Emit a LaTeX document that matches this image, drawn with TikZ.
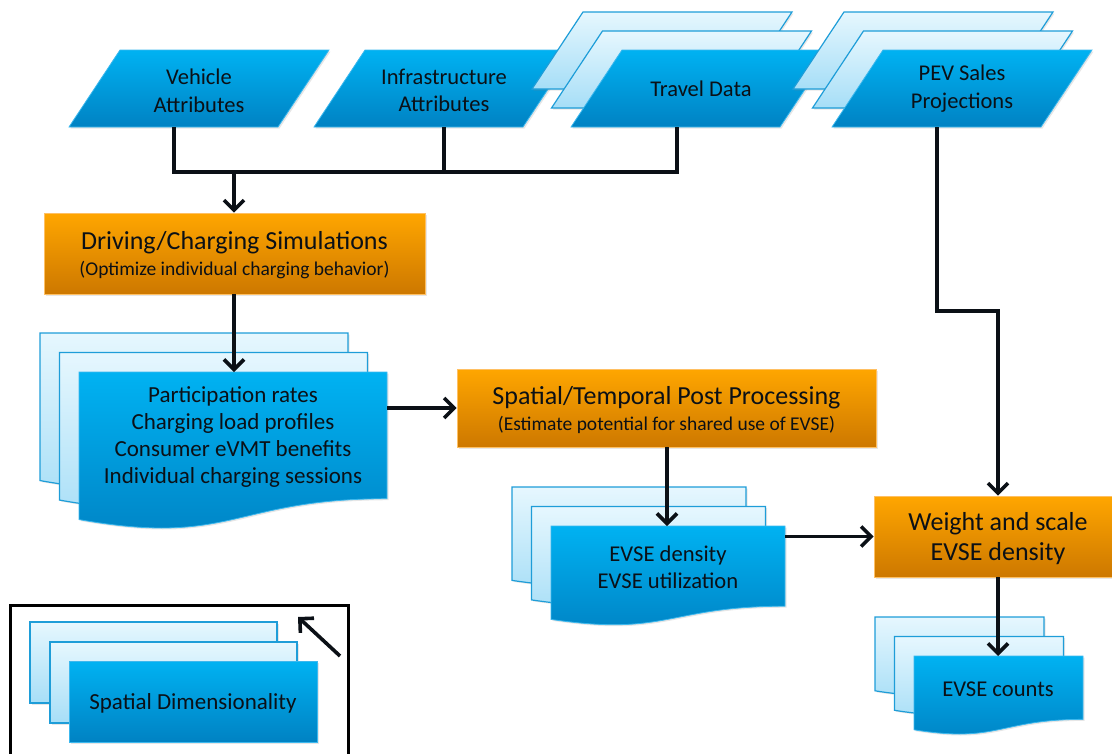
\documentclass[tikz,border=0pt]{standalone}
\usepackage{fontspec}
\setmainfont{Carlito}
\usetikzlibrary{arrows.meta,shadows}
\definecolor{blueT}{HTML}{00B2F2}
\definecolor{blueB}{HTML}{0082C3}
\definecolor{blueEdge}{HTML}{3CB8EE}
\definecolor{lightT}{HTML}{E6F7FE}
\definecolor{lightB}{HTML}{A6DEF7}
\definecolor{lightEdge}{HTML}{1E9DD8}
\definecolor{orT}{HTML}{FFA600}
\definecolor{orB}{HTML}{CD7800}
\definecolor{orEdge}{HTML}{FFC063}
\definecolor{ink}{HTML}{0B1016}
\newcommand\fsz[2]{\fontsize{#1}{#2}\selectfont}
\newcommand\pgram[3]{%
  \path[#3] ({#1-130},{#2+38.5}) -- ({#1-79},{#2-38.5}) -- ({#1+130},{#2-38.5}) -- ({#1+79},{#2+38.5}) -- cycle;}
\newcommand\docsheet[5]{%
  \path[#5] ({#1},{#2}) -- ({#1+#3},{#2}) -- ({#1+#3},{#2+0.802*#4})
    .. controls ({#1+0.5*#3},{#2+0.802*#4}) and ({#1+0.5*#3},{#2+1.1075*#4}) .. ({#1},{#2+0.934*#4}) -- cycle;}
\newcommand\docstack[4]{%
  \docsheet{#1-39}{#2-39}{#3}{#4}{back}
  \docsheet{#1-19.5}{#2-19.5}{#3}{#4}{back}
  \docsheet{#1}{#2}{#3}{#4}{front}}
\tikzset{
  shad/.style={drop shadow={opacity=0.2, shadow xshift=1.5pt, shadow yshift=-1.5pt}},
  front/.style={shad, top color=blueT, bottom color=blueB, draw=blueEdge, line width=0.8pt},
  back/.style={shad, top color=lightT, bottom color=lightB, draw=lightEdge, line width=1.2pt},
  procbox/.style={shad, rectangle, top color=orT, bottom color=orB, draw=orEdge, line width=0.8pt, inner sep=0pt},
  lbl/.style={align=center, text=ink, inner sep=0pt},
  conn/.style={draw=ink, line width=3.6pt},
  arr/.style={conn, -{Straight Barb[length=10pt,width=20pt,line width=3.6pt]}},
  legframe/.style={draw=black, line width=3pt},
}
\begin{document}
\begin{tikzpicture}[x=1pt,y=-1pt]
\useasboundingbox (0,0) rectangle (1112,753);
\clip (0,0) rectangle (1112,753);

% input parallelograms
\pgram{199}{88.5}{front}
\pgram{444}{88.5}{front}
\pgram{662}{50.5}{back}
\pgram{681.5}{69.5}{back}
\pgram{701}{88.5}{front}
\pgram{923}{50.5}{back}
\pgram{942.5}{69.5}{back}
\pgram{962}{88.5}{front}
\node[lbl, font=\fsz{22.5}{27.6}] (veh) at (199,90.5) {Vehicle\\Attributes};
\node[lbl, font=\fsz{22.5}{27.6}] (inf) at (444,90.5) {Infrastructure\\Attributes};
\node[lbl, font=\fsz{22.5}{27.6}] (trav) at (701,89) {Travel Data};
\node[lbl, font=\fsz{22.5}{27.6}] (pev) at (962,88.5) {PEV Sales\\Projections};

% process boxes
\node[procbox, minimum width=381pt, minimum height=81pt] (O1) at (234.5,253.5) {};
\node[lbl, font=\fsz{26}{30}] (O1t) at (234.5,243) {Driving/Charging Simulations};
\node[lbl, font=\fsz{19.5}{23}] (O1s) at (234.5,270) {(Optimize individual charging behavior)};

\node[procbox, minimum width=419pt, minimum height=78pt] (O2) at (666.5,408) {};
\node[lbl, font=\fsz{26}{30}] (O2t) at (666.5,398) {Spatial/Temporal Post Processing};
\node[lbl, font=\fsz{19.5}{23}] (O2s) at (666.5,425) {(Estimate potential for shared use of EVSE)};

\node[procbox, minimum width=248pt, minimum height=81pt] (O3) at (998,536.5) {};
\node[lbl, font=\fsz{26}{30}] (O3t) at (998,538.5) {Weight and scale\\EVSE density};

% document stacks
\docstack{79}{372}{308}{158}
\node[lbl, font=\fsz{23}{27.3}] (d1) at (233,437) {Participation rates\\Charging load profiles\\Consumer eVMT benefits\\Individual charging sessions};
\docstack{551}{526}{234}{100}
\node[lbl, font=\fsz{22.6}{27}] (d2) at (668,567.5) {EVSE density\\EVSE utilization};
\docstack{914}{656}{169}{79}
\node[lbl, font=\fsz{22.6}{27}] (d3) at (998,689) {EVSE counts};

% legend
\path[back] (30,622) rectangle (277,703);
\path[back] (50,642) rectangle (297,723);
\path[front] (69,661) rectangle (317,742);
\node[lbl, font=\fsz{23}{27}] (leg) at (193,703) {Spatial Dimensionality};
\draw[legframe] (10,760) -- (10,605) -- (348,605) -- (348,760);

% connector anchors
\coordinate (vehS) at (174,127);
\coordinate (infS) at (444,127);
\coordinate (travS) at (677,127);
\coordinate (pevS) at (937,127);
\coordinate (bus) at (234,172);
\coordinate (d1top) at (234,372);
\coordinate (d1out) at (387,408);
\coordinate (d2top) at (667,526);
\coordinate (d2out) at (785,536.5);
\coordinate (pevBend) at (998,311);
\coordinate (d3top) at (998,656);
\coordinate (legA) at (340,656);
\coordinate (legB) at (298,617);

% connectors
\draw[conn, line join=miter] (vehS) |- (travS |- bus) -- (travS);
\draw[conn] (infS) -- (infS |- bus);
\draw[arr] (bus) -- (bus |- O1.north);
\draw[arr] (O1.south -| d1top) -- (d1top);
\draw[arr] (d1out) -- (O2.west);
\draw[arr] (O2.south -| d2top) -- (d2top);
\draw[arr] (d2out) -- (O3.west);
\draw[arr, line join=miter] (pevS) |- (pevBend) -- (O3.north);
\draw[arr] (O3.south) -- (d3top);
\draw[arr] (legA) -- (legB);
\end{tikzpicture}
\end{document}
